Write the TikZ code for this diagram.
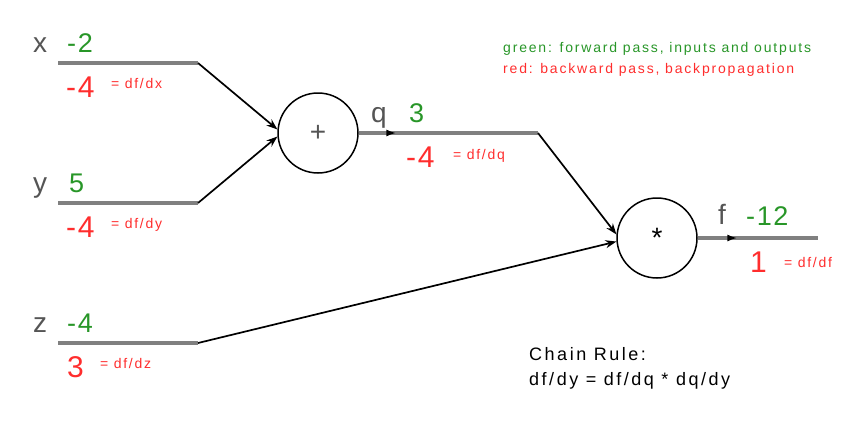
\documentclass[tikz,border=0pt]{standalone}
\usepackage{fontspec}
\setmainfont{Liberation Sans}
\usetikzlibrary{arrows.meta,decorations.markings}
\definecolor{fgreen}{RGB}{40,150,40}
\definecolor{bred}{RGB}{255,45,45}
\definecolor{wiregray}{RGB}{128,128,128}
\definecolor{labgray}{RGB}{85,85,85}
\begin{document}
\begin{tikzpicture}[x=1pt,y=-1pt,
  wire/.style={draw=wiregray,line width=3.2pt},
  conn/.style={draw=black,line width=1.7pt,-{Stealth[length=11pt,width=8pt]}},
  gate/.style={circle,draw,line width=1.5pt,minimum size=80pt,inner sep=0pt,font=\fontsize{28}{28}\selectfont,text=labgray},
  varlab/.style={anchor=base west,inner sep=0pt,text=labgray,font=\fontsize{28}{28}\selectfont},
  fwd/.style={anchor=base west,inner sep=0pt,text=fgreen,font=\fontsize{27}{27}\selectfont\addfontfeatures{LetterSpace=6}},
  bwd/.style={anchor=base west,inner sep=0pt,text=bred,font=\fontsize{30}{30}\selectfont\addfontfeatures{LetterSpace=6}},
  grad/.style={anchor=base west,inner sep=0pt,text=bred,font=\fontsize{14}{14}\selectfont\addfontfeatures{LetterSpace=12}},
  legend/.style={anchor=base west,inner sep=0pt,font=\fontsize{14}{14}\selectfont\addfontfeatures{LetterSpace=13}},
  chain/.style={anchor=base west,inner sep=0pt,text=black,font=\fontsize{18}{18}\selectfont\addfontfeatures{LetterSpace=14}},
  midarrow/.style={postaction={decorate},decoration={markings,mark=at position #1 with {\arrow[black]{Latex[length=10pt,width=7pt]}}}}
]
\useasboundingbox (0,0) rectangle (848,426);

% gates
\node[gate] (plus) at (318,133) {+};
\node[gate,text=black] (star) at (657,238) {*};

% wire ends
\coordinate (xs) at (58,63);  \coordinate (xe) at (198,63);
\coordinate (ys) at (58,203); \coordinate (ye) at (198,203);
\coordinate (zs) at (58,343); \coordinate (ze) at (198,343);
\coordinate (qe) at (538,133);
\coordinate (fe) at (818,238);

% wires
\draw[wire] (xs) -- (xe);
\draw[wire] (ys) -- (ye);
\draw[wire] (zs) -- (ze);
\draw[wire,midarrow=0.21] (plus.east) -- (qe);
\draw[wire,midarrow=0.33] (star.east) -- (fe);

% connectors
\draw[conn] (xe) -- (plus.175);
\draw[conn] (ye) -- (plus.185);
\draw[conn] (qe) -- (star.175);
\draw[conn] (ze) -- (star.185);

% x
\node[varlab] (lx) at (33,52) {x};
\node[fwd] (vx) at (67,52) {-2};
\node[bwd] (gx) at (66,97) {-4};
\node[grad] (dx) at (111,88) {= df/dx};
% y
\node[varlab] (ly) at (33,192) {y};
\node[fwd] (vy) at (69,192) {5};
\node[bwd] (gy) at (66,237) {-4};
\node[grad] (dy) at (111,228) {= df/dy};
% z
\node[varlab] (lz) at (33,332) {z};
\node[fwd] (vz) at (67,332) {-4};
\node[bwd] (gz) at (67,377) {3};
\node[grad] (dz) at (100,368) {= df/dz};
% q
\node[varlab] (lq) at (371,122) {q};
\node[fwd] (vq) at (409,122) {3};
\node[bwd] (gq) at (406,167) {-4};
\node[grad] (dq) at (453,159) {= df/dq};
% f
\node[varlab] (lf) at (718,224) {f};
\node[fwd] (vf) at (746,225) {-12};
\node[bwd] (gf) at (750,272) {1};
\node[grad] (df) at (784,267) {= df/df};

% legend
\node[legend,text=fgreen] (leg1) at (503,52) {green: forward pass, inputs and outputs};
\node[legend,text=bred] (leg2) at (503,73) {red: backward pass, backpropagation};

% chain rule
\node[chain] (ch1) at (529,360) {Chain Rule:};
\node[chain] (ch2) at (529,385) {df/dy = df/dq * dq/dy};
\end{tikzpicture}
\end{document}
